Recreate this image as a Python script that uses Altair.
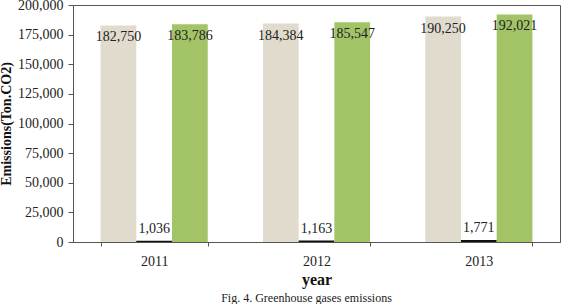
import altair as alt
import pandas as pd

years = ["2011", "2012", "2013"]
series = ["A", "B", "C"]
values_a = [182750, 184384, 190250]
values_b = [1036, 1163, 1771]
values_c = [183786, 185547, 192021]

rows = []
for i, y in enumerate(years):
    for s, vals in zip(series, [values_a, values_b, values_c]):
        rows.append({"year": y, "series": s, "value": vals[i]})
df = pd.DataFrame(rows)

FONT = "Liberation Serif"

x = alt.X("year:N", title="year",
          scale=alt.Scale(paddingInner=0.34, paddingOuter=0.17),
          axis=alt.Axis(labelAngle=0, tickBand="extent", labelFontSize=14,
                        titleFontSize=16, titleFontWeight="bold",
                        labelPadding=8, titlePadding=3, tickSize=4,
                        domainColor="#555", tickColor="#555"))
xo = alt.XOffset("series:N", sort=series)
y = alt.Y("value:Q", title="Emissions(Ton.CO2)",
          scale=alt.Scale(domain=[0, 200000]),
          axis=alt.Axis(values=list(range(0, 200001, 25000)), format=",.0f",
                        grid=False, labelFontSize=14, titleFontSize=14,
                        titleFontWeight="bold", tickSize=5, labelPadding=5,
                        titlePadding=4, domainColor="#555", tickColor="#555"))

base = alt.Chart(df)
bars = base.mark_bar().encode(
    x=x, xOffset=xo, y=y,
    color=alt.Color("series:N", sort=series,
                    scale=alt.Scale(domain=series, range=["#e1dbce", "#111111", "#a2c467"]),
                    legend=None),
)
big_labels = base.transform_filter(alt.datum.series != "B").mark_text(
    font=FONT, fontSize=14, dy=12, color="#222").encode(
    x=x, xOffset=xo, y=y, text=alt.Text("value:Q", format=",.0f"))
small_labels = base.transform_filter(alt.datum.series == "B").mark_text(
    font=FONT, fontSize=14, dy=-12, color="#222").encode(
    x=x, xOffset=xo, y=y, text=alt.Text("value:Q", format=",.0f"))

caption = alt.TitleParams("Fig. 4. Greenhouse gases emissions", orient="bottom",
                          font=FONT, fontSize=12, fontWeight="normal",
                          color="#222", offset=6, anchor="middle", dx=-10)

chart = alt.layer(bars, big_labels, small_labels).properties(
    width=487, height=237, title=caption,
    padding={"left": 73, "top": 5, "right": 13, "bottom": 62},
    autosize=alt.AutoSizeParams(type="none"),
).configure_view(stroke="#555", strokeWidth=1).configure_axis(
    labelFont=FONT, titleFont=FONT, labelColor="#222", titleColor="#111"
).configure_title(font=FONT)

chart.save("out.html", embed_options={"renderer": "svg", "actions": False})
